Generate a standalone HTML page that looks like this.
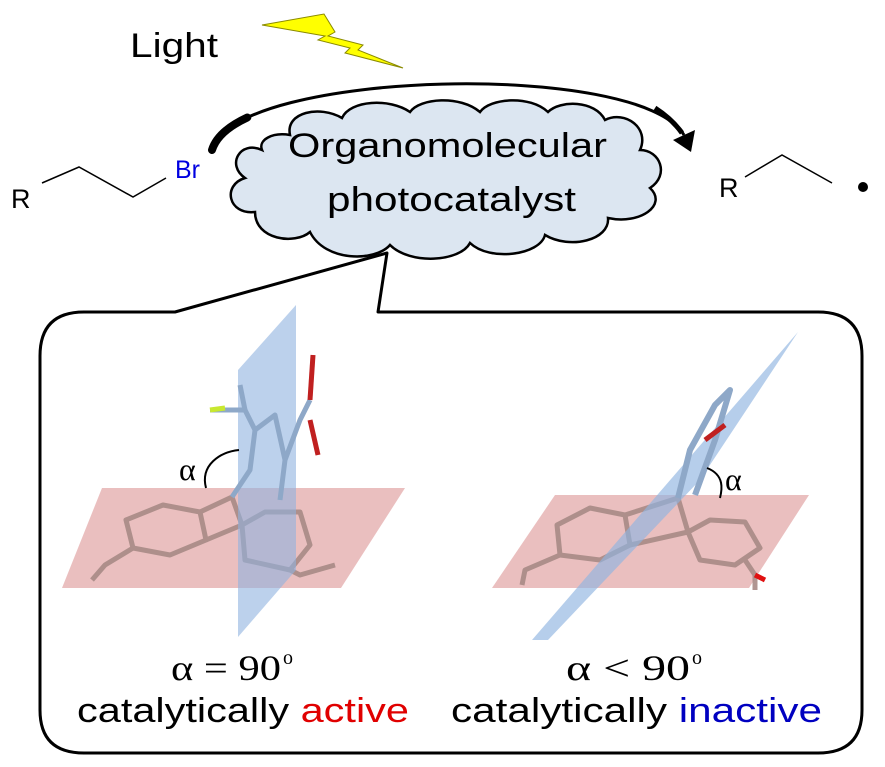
<!DOCTYPE html>
<html><head><meta charset="utf-8"><style>html,body{margin:0;padding:0;background:#fff}svg{display:block}</style></head>
<body>
<svg width="885" height="767" viewBox="0 0 885 767" xmlns="http://www.w3.org/2000/svg" font-family="Liberation Sans, sans-serif">
<!-- Light -->
<text x="130" y="57" font-size="34" textLength="88" lengthAdjust="spacingAndGlyphs">Light</text>
<polygon points="262,25 324,14 335,32 328,36 363,45 358,50 403,68 345,53 350,48 318,40 325,36" fill="#ffff00" stroke="#8a8a00" stroke-width="1"/>
<!-- arc arrow -->
<path d="M212,148 C240,70 640,60 684,135" fill="none" stroke="#000" stroke-width="3"/>
<path d="M212,150 C216.2,136.3 228.8,126.1 247.3,117.5" fill="none" stroke="#000" stroke-width="8" stroke-linecap="round"/>
<path d="M655,108 Q672,119 682,133" fill="none" stroke="#000" stroke-width="5"/>
<polygon points="673,140 695,130 691,152" fill="#000"/>
<!-- cloud -->
<path d="M262,150 C240,140 226,165 245,178 C222,185 228,215 255,212 C255,240 295,245 310,232 C325,262 375,262 390,245 C410,265 460,262 470,243 C490,262 540,255 545,235 C570,250 610,240 608,218 C640,225 668,205 650,188 C670,175 660,150 640,150 C650,128 625,110 605,120 C595,100 560,100 548,112 C530,95 490,98 480,112 C460,95 420,98 410,112 C390,98 350,100 342,118 C320,105 285,112 290,135 C272,132 258,140 262,150 Z" fill="#dce6f1" stroke="#000" stroke-width="2.5"/>
<text x="288" y="157" font-size="34" textLength="319" lengthAdjust="spacingAndGlyphs">Organomolecular</text>
<text x="327" y="211" font-size="34" textLength="249" lengthAdjust="spacingAndGlyphs">photocatalyst</text>
<!-- left molecule -->
<text x="11" y="208" font-size="27">R</text>
<polyline points="42,183 79,167 133,197 166,178" fill="none" stroke="#000" stroke-width="1.5"/>
<text x="175" y="178" font-size="25" fill="#0000e0">Br</text>
<!-- right molecule -->
<text x="719" y="197" font-size="27">R</text>
<polyline points="745,177 782,155 832,183" fill="none" stroke="#000" stroke-width="1.5"/>
<circle cx="863" cy="187" r="5" fill="#000"/>
<!-- callout box -->
<path d="M175,312 L387,253 L378,312 L818,312 Q862,312 862,356 L862,710 Q862,753 818,753 L84,753 Q40,753 40,710 L40,356 Q40,312 84,312 Z" fill="#fff" stroke="#000" stroke-width="3" stroke-linejoin="round"/>
<!-- left planes -->
<polygon points="62,588 102,488 405,488 341,588" fill="#e3a9a9" opacity="0.75"/>
<g fill="none" stroke="#a88a86" stroke-width="5" stroke-linejoin="round" opacity="0.9">
<polygon points="126,520 163,505 200,512 206,540 170,555 133,548"/>
<polyline points="200,512 232,497 242,525 206,540"/>
<polygon points="242,525 265,512 300,512 310,545 290,570 245,560"/>
<polyline points="133,548 105,565 92,580"/>
<polyline points="290,570 300,575 335,565"/>
</g>
<polygon points="238,370 296,305 296,570 238,637" fill="#8fb3e0" opacity="0.6"/>
<g fill="none" stroke="#8ea8c8" stroke-width="5" stroke-linejoin="round">
<polyline points="232,497 250,470 255,430 275,415 285,460 280,500"/>
<polyline points="255,430 245,410 210,410"/>
<polyline points="245,410 240,385"/>
<polyline points="285,460 300,420 310,400"/>
</g>
<polyline points="310,400 313,355" stroke="#c02020" stroke-width="5" fill="none"/>
<polyline points="310,420 318,455" stroke="#c02020" stroke-width="5" fill="none"/>
<polyline points="210,410 225,408" stroke="#c8e830" stroke-width="5"/>
<path d="M206,488 C200,465 220,452 239,450" fill="none" stroke="#000" stroke-width="2"/>
<text x="179" y="480" font-size="32" font-family="Liberation Serif, serif">α</text>
<!-- right planes -->
<polygon points="492,588 555,495 809,495 749,588" fill="#e3a9a9" opacity="0.75"/>
<g fill="none" stroke="#a88a86" stroke-width="5" stroke-linejoin="round" opacity="0.9">
<polygon points="557,525 590,508 625,515 630,545 600,560 560,555"/>
<polyline points="625,515 678,498 688,532 630,545"/>
<polygon points="688,532 710,520 745,522 760,548 735,565 700,560"/>
<polyline points="560,555 525,570 522,585"/>
<polyline points="745,560 755,575 755,590"/>
</g>
<polygon points="532,640 798,332 700,480 548,640" fill="#8fb3e0" opacity="0.65"/>
<g fill="none" stroke="#8ea8c8" stroke-width="6" stroke-linejoin="round">
<polyline points="678,498 690,450 715,405 730,390 715,440 695,495"/>
</g>
<polyline points="705,440 725,425" stroke="#c02020" stroke-width="5"/>
<polyline points="755,575 765,580" stroke="#e01010" stroke-width="5"/>
<path d="M707,468 C725,475 722,490 720,498" fill="none" stroke="#000" stroke-width="2"/>
<text x="725" y="490" font-size="32" font-family="Liberation Serif, serif">α</text>
<!-- bottom labels -->
<text x="171" y="680" font-size="36" font-family="Liberation Serif, serif" textLength="110" lengthAdjust="spacingAndGlyphs">α = 90</text>
<text x="283" y="664" font-size="20" font-family="Liberation Serif, serif">o</text>
<text x="566" y="680" font-size="36" font-family="Liberation Serif, serif" textLength="124" lengthAdjust="spacingAndGlyphs">α &lt; 90</text>
<text x="692" y="664" font-size="20" font-family="Liberation Serif, serif">o</text>
<text x="77" y="722" font-size="34" textLength="332" lengthAdjust="spacingAndGlyphs">catalytically <tspan fill="#e00000">active</tspan></text>
<text x="451" y="722" font-size="34" textLength="371" lengthAdjust="spacingAndGlyphs">catalytically <tspan fill="#0000c0">inactive</tspan></text>
</svg>
</body></html>
